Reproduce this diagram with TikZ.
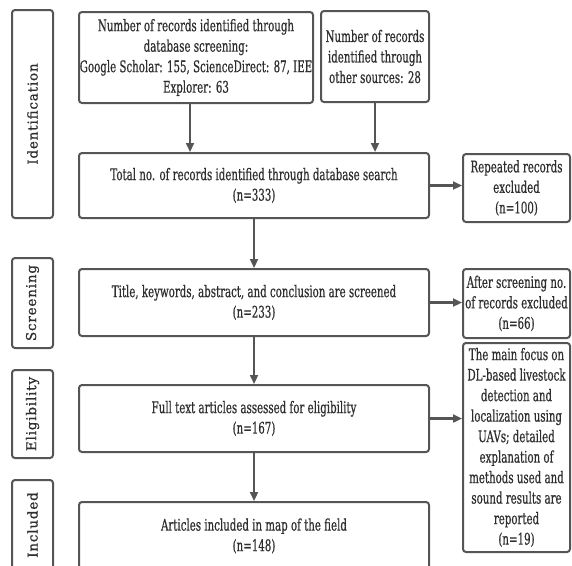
\documentclass[tikz,border=0pt]{standalone}
\usepackage{fontspec}
\setmainfont{DejaVu Serif}[FakeStretch=0.64, FakeBold=0.6]
\newfontfamily\sidefont{DejaVu Serif}[LetterSpace=6, FakeBold=0.8]
\usepackage{tikz}
\usetikzlibrary{positioning, arrows.meta, calc}
\definecolor{boxgray}{HTML}{555555}
\definecolor{txtgray}{HTML}{2E2E2E}

\begin{document}
\begin{tikzpicture}[x=1pt, y=-1pt,
    box/.style={draw=boxgray, line width=2pt, rounded corners=3pt, align=center,
        text=txtgray, inner sep=0pt, font=\fontsize{16}{20.5}\selectfont},
    phase/.style={draw=boxgray, line width=2pt, rounded corners=3pt, minimum width=41pt,
        text=txtgray, inner sep=0pt},
    phaselabel/.style={rotate=90, text=txtgray, font=\sidefont\fontsize{13.5}{14}\selectfont},
    flow/.style={-{Triangle[length=9pt, width=8pt]}, draw=boxgray, line width=2.2pt}]
    \useasboundingbox (0,0) rectangle (572,565);
    \clip (0,0) rectangle (572,565);
    \node[phase, minimum height=208pt] (identification) at (32.5,114) {};
    \node[phaselabel] at (identification) {Identification};
    \node[phase, minimum height=90pt] (screening) at (32.5,303) {};
    \node[phaselabel] at (screening) {Screening};
    \node[phase, minimum height=88pt] (eligibility) at (32.5,414) {};
    \node[phaselabel] at (eligibility) {Eligibility};
    \node[phase, minimum height=90pt] (included) at (32.5,525) {};
    \node[phaselabel] at (included) {Included};
    \node[box, minimum width=234pt, minimum height=91pt] (database) at (196,57.5)
        {Number of records identified through\\database screening:\\Google Scholar: 155, ScienceDirect: 87, IEE\\Explorer: 63};
    \node[box, minimum width=108pt, minimum height=91pt] (other) at (375,56.5)
        {Number of records\\identified through\\other sources: 28};
    \node[box, minimum width=350pt, minimum height=65pt] (total) at (254,185.5)
        {Total no. of records identified through database search\\(n=333)};
    \node[box, minimum width=107pt, minimum height=68pt] (repeated) at (516.5,188)
        {Repeated records\\excluded\\(n=100)};
    \node[box, minimum width=350pt, minimum height=67pt] (screened) at (254,302.5)
        {Title, keywords, abstract, and conclusion are screened\\(n=233)};
    \node[box, minimum width=107pt, minimum height=69pt] (afterscreen) at (516.5,303.5)
        {After screening no.\\of records excluded\\(n=66)};
    \node[box, minimum width=350pt, minimum height=67pt] (fulltext) at (254,418.5)
        {Full text articles assessed for eligibility\\(n=167)};
    \node[box, minimum width=107pt, minimum height=209pt] (focus) at (516.5,447.5)
        {The main focus on\\DL-based livestock\\detection and\\localization using\\UAVs; detailed\\explanation of\\methods used and\\sound results are\\reported\\(n=19)};
    \node[box, minimum width=350pt, minimum height=68pt] (articles) at (254,536)
        {Articles included in map of the field\\(n=148)};
    \draw[flow] ([xshift=-6pt]database.south) -- ([xshift=-6pt]database.south |- total.north);
    \draw[flow] (other.south) -- (other.south |- total.north);
    \draw[flow] (total.east) -- (total.east -| repeated.west);
    \draw[flow] (total.south) -- (screened.north);
    \draw[flow] (screened.east) -- (screened.east -| afterscreen.west);
    \draw[flow] (screened.south) -- (fulltext.north);
    \draw[flow] (fulltext.east) -- (fulltext.east -| focus.west);
    \draw[flow] (fulltext.south) -- (articles.north);
\end{tikzpicture}
\end{document}
